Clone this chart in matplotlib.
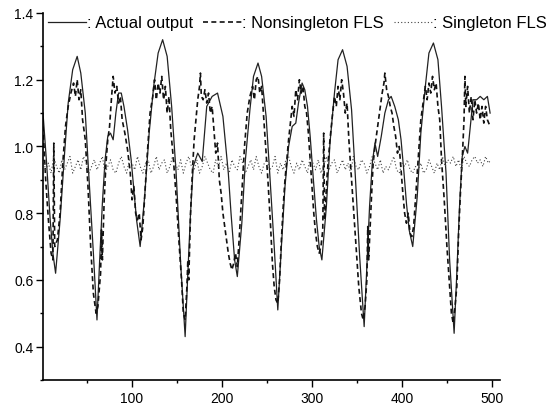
import matplotlib
matplotlib.use("Agg")
import matplotlib.pyplot as plt
from matplotlib.ticker import MultipleLocator, FormatStrFormatter
import numpy as np

plt.rcParams["font.family"] = ["Liberation Sans", "DejaVu Sans"]

# actual output (time step, value)
x_act = [1, 5, 9, 12, 15, 20, 25, 29, 34, 39, 43, 48, 52, 57, 61, 64, 67, 70, 73, 76,
         79, 82, 85, 88, 91, 95, 99, 102, 105, 109, 114, 119, 124, 129, 134, 139, 144, 149, 154, 159,
         162, 165, 168, 173, 178, 183, 189, 195, 201, 207, 210, 214, 217, 222, 226, 231, 235, 240, 244, 249,
         253, 258, 262, 266, 270, 274, 278, 282, 285, 289, 292, 295, 298, 301, 305, 308, 311, 316, 320, 325,
         329, 334, 339, 344, 348, 353, 358, 361, 364, 367, 370, 373, 377, 381, 385, 388, 392, 396, 399, 402,
         405, 408, 412, 417, 421, 426, 430, 435, 440, 444, 449, 453, 458, 461, 464, 467, 470, 473, 476, 479,
         483, 487, 491, 495, 498]
y_act = [1.10, 0.95, 0.78, 0.68, 0.62, 0.78, 0.98, 1.13, 1.23, 1.27, 1.22, 1.10, 0.91, 0.68, 0.48, 0.66, 0.83, 0.96, 1.03, 1.04,
         1.02, 1.10, 1.16, 1.16, 1.12, 1.05, 0.96, 0.87, 0.78, 0.70, 0.85, 1.04, 1.18, 1.28, 1.32, 1.27, 1.12, 0.92, 0.65, 0.43,
         0.62, 0.80, 0.94, 0.98, 0.955, 1.12, 1.15, 1.16, 1.09, 0.92, 0.80, 0.66, 0.61, 0.77, 0.96, 1.11, 1.21, 1.25, 1.21, 1.09,
         0.92, 0.70, 0.51, 0.70, 0.88, 1.00, 1.06, 1.07, 1.13, 1.19, 1.17, 1.12, 1.03, 0.92, 0.78, 0.70, 0.66, 0.82, 1.01, 1.16,
         1.26, 1.29, 1.24, 1.11, 0.92, 0.67, 0.46, 0.64, 0.82, 0.95, 1.01, 0.97, 1.03, 1.10, 1.14, 1.15, 1.12, 1.08, 1.02, 0.93,
         0.83, 0.75, 0.70, 0.85, 1.04, 1.18, 1.28, 1.31, 1.26, 1.12, 0.92, 0.66, 0.44, 0.62, 0.82, 0.97, 1.00, 0.98, 1.06, 1.14,
         1.14, 1.15, 1.14, 1.15, 1.10]

# nonsingleton FLS
x_ns = [1, 4, 7, 10, 12, 13, 14, 17, 20, 23, 26, 29, 32, 35, 37, 39, 41, 43, 45, 48,
        51, 54, 57, 60, 62, 65, 66, 67, 69, 71, 73, 75, 77, 79, 81, 83, 85, 87, 89, 92,
        95, 98, 100, 102, 104, 106, 108, 110, 112, 114, 117, 120, 123, 125, 127, 129, 131, 133, 135, 137,
        139, 141, 143, 146, 149, 152, 155, 157, 159, 161, 162, 163, 165, 167, 169, 171, 173, 175, 176, 177,
        179, 181, 183, 185, 187, 189, 191, 193, 195, 197, 199, 201, 203, 205, 207, 209, 211, 213, 215, 217,
        219, 222, 225, 228, 231, 234, 236, 238, 240, 242, 244, 246, 248, 251, 254, 256, 258, 260, 262, 264,
        266, 268, 270, 272, 274, 276, 278, 280, 282, 284, 286, 288, 290, 292, 294, 296, 298, 300, 302, 304,
        306, 308, 310, 312, 313, 314, 317, 320, 323, 325, 327, 329, 331, 333, 335, 337, 339, 341, 343, 346,
        349, 352, 355, 357, 359, 361, 362, 363, 366, 368, 370, 372, 374, 376, 378, 380, 381, 383, 385, 387,
        389, 391, 393, 395, 397, 399, 401, 403, 405, 407, 409, 411, 413, 415, 418, 421, 424, 426, 428, 430,
        432, 434, 436, 438, 440, 442, 444, 447, 450, 453, 455, 457, 459, 461, 463, 465, 467, 469, 470, 471,
        473, 475, 477, 479, 481, 483, 485, 487, 489, 491, 493, 495, 498]
y_ns = [1.06, 0.90, 0.78, 0.68, 0.66, 1.01, 0.70, 0.72, 0.80, 0.95, 1.06, 1.12, 1.16, 1.19, 1.15, 1.20, 1.14, 1.17, 1.08, 1.02,
        0.88, 0.70, 0.56, 0.50, 0.52, 0.62, 0.75, 0.66, 0.84, 0.95, 1.02, 1.06, 1.14, 1.21, 1.16, 1.18, 1.13, 1.15, 1.08, 1.04,
        0.99, 0.92, 0.84, 0.88, 0.80, 0.78, 0.80, 0.72, 0.76, 0.85, 0.98, 1.10, 1.15, 1.20, 1.14, 1.19, 1.16, 1.21, 1.14, 1.18,
        1.10, 1.15, 1.05, 0.96, 0.85, 0.72, 0.60, 0.50, 0.48, 0.58, 0.66, 0.60, 0.80, 0.92, 1.02, 1.08, 1.14, 1.18, 1.22, 1.15,
        1.14, 1.17, 1.13, 1.16, 1.10, 1.12, 1.05, 0.98, 1.01, 0.90, 0.86, 0.80, 0.76, 0.72, 0.68, 0.65, 0.63, 0.65, 0.68, 0.64,
        0.72, 0.86, 1.00, 1.10, 1.15, 1.18, 1.14, 1.20, 1.21, 1.16, 1.18, 1.10, 1.02, 0.90, 0.76, 0.65, 0.58, 0.54, 0.53, 0.60,
        0.72, 0.82, 0.90, 0.96, 1.02, 1.07, 1.12, 1.09, 1.17, 1.14, 1.20, 1.16, 1.18, 1.12, 1.10, 1.04, 0.96, 0.88, 0.80, 0.74,
        0.70, 0.68, 0.70, 0.75, 1.04, 0.78, 0.92, 1.02, 1.10, 1.15, 1.12, 1.18, 1.14, 1.20, 1.16, 1.10, 1.13, 1.02, 0.94, 0.82,
        0.70, 0.58, 0.50, 0.48, 0.52, 0.60, 0.76, 0.66, 0.84, 0.95, 1.00, 1.04, 1.08, 1.12, 1.16, 1.19, 1.22, 1.17, 1.15, 1.12,
        1.10, 1.06, 1.03, 0.98, 1.00, 0.93, 0.86, 0.80, 0.77, 0.80, 0.74, 0.73, 0.76, 0.84, 0.96, 1.08, 1.14, 1.18, 1.14, 1.19,
        1.16, 1.21, 1.17, 1.19, 1.12, 1.08, 0.96, 0.84, 0.70, 0.58, 0.50, 0.47, 0.52, 0.58, 0.74, 0.86, 0.96, 1.08, 1.21, 1.12,
        1.18, 1.10, 1.15, 1.08, 1.14, 1.10, 1.13, 1.08, 1.12, 1.07, 1.12, 1.08, 1.06]

# singleton FLS, every 3 steps from 1 to 499
x_s = np.arange(1, 500, 3)
y_s = [0.96, 0.93, 0.95, 0.92, 0.97, 0.94, 0.92, 0.96, 0.93, 0.95,
       0.97, 0.92, 0.94, 0.96, 0.93, 0.97, 0.95, 0.92, 0.94, 0.96,
       0.93, 0.95, 0.97, 0.92, 0.94, 0.96, 0.93, 0.92, 0.95, 0.97,
       0.94, 0.92, 0.96, 0.95, 0.93, 0.97, 0.94, 0.92, 0.95, 0.96,
       0.92, 0.94, 0.97, 0.93, 0.95, 0.96, 0.92, 0.94, 0.97, 0.95,
       0.93, 0.96, 0.92, 0.95, 0.97, 0.94, 0.93, 0.96, 0.92, 0.94,
       0.97, 0.95, 0.93, 0.92, 0.96, 0.94, 0.97, 0.93, 0.95, 0.92,
       0.96, 0.94, 0.93, 0.97, 0.95, 0.92, 0.94, 0.96, 0.93, 0.97,
       0.94, 0.92, 0.95, 0.96, 0.93, 0.94, 0.97, 0.92, 0.95, 0.93,
       0.96, 0.97, 0.94, 0.92, 0.95, 0.93, 0.96, 0.94, 0.92, 0.97,
       0.95, 0.93, 0.96, 0.92, 0.94, 0.97, 0.93, 0.95, 0.96, 0.92,
       0.94, 0.96, 0.93, 0.95, 0.92, 0.97, 0.94, 0.93, 0.96, 0.95,
       0.92, 0.94, 0.97, 0.95, 0.93, 0.96, 0.92, 0.94, 0.93, 0.95,
       0.97, 0.93, 0.92, 0.95, 0.94, 0.96, 0.93, 0.92, 0.94, 0.93,
       0.95, 0.92, 0.93, 0.96, 0.94, 0.92, 0.95, 0.93, 0.97, 0.94,
       0.96, 0.95, 0.97, 0.94, 0.96, 0.93, 0.97, 0.95, 0.94, 0.96,
       0.97, 0.95, 0.96, 0.94, 0.97, 0.95, 0.96]

labels = [": Actual output", ": Nonsingleton FLS", ": Singleton FLS"]

fig = plt.figure(figsize=(5.47, 4.06), dpi=100)
ax = fig.add_axes([43 / 547, 25 / 406, 457 / 547, 367 / 406])

l1, = ax.plot(x_act, y_act, color="#222222", lw=0.9, ls="-")
l2, = ax.plot(x_ns, y_ns, color="#111111", lw=1.2, ls=(0, (3, 2)))
l3, = ax.plot(x_s, y_s, color="#444444", lw=0.8, ls=(0, (1, 2)))

ax.set_xlim(1, 509)
ax.set_ylim(0.3, 1.4)
ax.spines["top"].set_visible(False)
ax.spines["right"].set_visible(False)
ax.spines["left"].set_linewidth(1.2)
ax.spines["bottom"].set_linewidth(1.2)
ax.xaxis.set_major_locator(MultipleLocator(100))
ax.xaxis.set_minor_locator(MultipleLocator(50))
ax.yaxis.set_major_locator(MultipleLocator(0.2))
ax.yaxis.set_minor_locator(MultipleLocator(0.1))
ax.yaxis.set_major_formatter(FormatStrFormatter("%.1f"))
ax.set_yticks([0.4, 0.6, 0.8, 1.0, 1.2, 1.4])
ax.tick_params(which="major", direction="out", length=5, width=1, labelsize=10)
ax.tick_params(which="minor", direction="out", length=2.5, width=1)
ax.tick_params(axis="x", pad=3)
ax.tick_params(axis="y", pad=2)

ax.legend([l1, l2, l3], labels, loc="center left", bbox_to_anchor=(0.011, 0.973),
          ncol=3, frameon=False, fontsize=12, handlelength=2.3, handletextpad=0.05,
          columnspacing=0.6, borderaxespad=0, borderpad=0)

fig.savefig("out.png", dpi=100)
